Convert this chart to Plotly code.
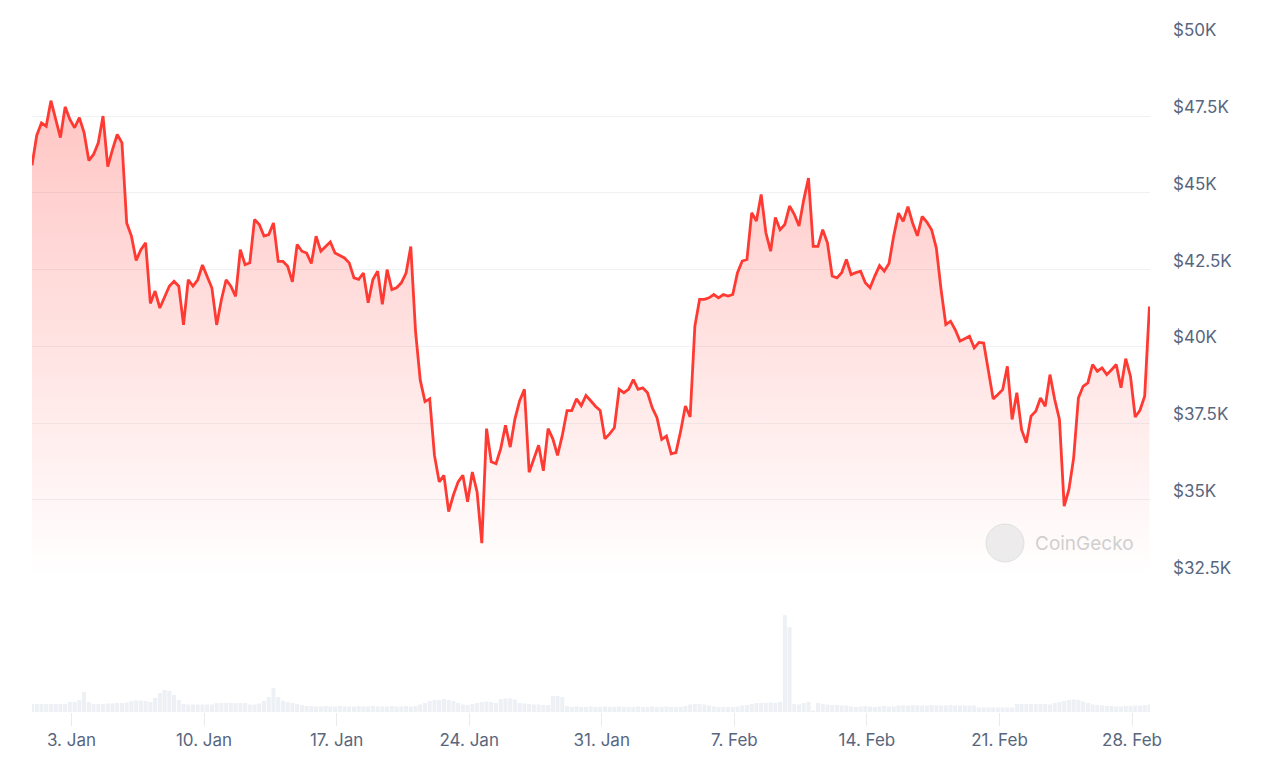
import pandas as pd
import plotly.graph_objects as go

# BTC price, 6-hourly (USD)
price = [
    45900, 46870, 47280, 47170, 48000, 47400, 46800, 47800, 47390, 47120,
    47450, 46960, 46050, 46250, 46630, 47500, 45850, 46410, 46900, 46630,
    44020, 43590, 42800, 43150, 43370, 41400, 41800, 41250, 41630, 41960,
    42120, 41960, 40700, 42170, 41960, 42170, 42650, 42280, 41900, 40700,
    41520, 42170, 41960, 41630, 43150, 42660, 42720, 44130, 43970, 43590,
    43640, 44020, 42770, 42770, 42610, 42100, 43320, 43100, 43040, 42700,
    43590, 43100, 43250, 43400, 43040, 42950, 42880, 42720, 42230, 42180,
    42390, 41420, 42180, 42450, 41370, 42500, 41850, 41910, 42070, 42390,
    43250, 40500, 38900, 38200, 38290, 36450, 35590, 35800, 34620, 35160,
    35590, 35800, 34940, 35910, 35260, 33590, 37320, 36240, 36180, 36670,
    37430, 36720, 37640, 38230, 38600, 35900, 36340, 36780, 35950, 37320,
    36990, 36450, 37100, 37910, 37910, 38290, 38070, 38400, 38230, 38050,
    37910, 36990, 37150, 37350, 38600, 38490, 38600, 38920, 38600, 38650,
    38490, 38000, 37680, 36970, 37080, 36500, 36540, 37240, 38060, 37700,
    40660, 41530, 41530, 41580, 41690, 41580, 41690, 41640, 41690, 42400,
    42780, 42830, 44350, 44080, 44950, 43700, 43100, 44200, 43800, 43970,
    44570, 44300, 43920, 44780, 45480, 43260, 43260, 43800, 43370, 42290,
    42230, 42400, 42830, 42340, 42400, 42450, 42070, 41910, 42290, 42630,
    42450, 42700, 43600, 44340, 44070, 44550, 44010, 43600, 44230, 44050,
    43800, 43200, 41850, 40710, 40820, 40540, 40170, 40240, 40330, 39950,
    40130, 40110, 39140, 38290, 38430, 38590, 39350, 37620, 38490, 37290,
    36860, 37730, 37890, 38320, 38050, 39080, 38270, 37620, 34800, 35340,
    36370, 38320, 38700, 38810, 39410, 39190, 39300, 39080, 39240, 39410,
    38650, 39600, 39030, 37700, 37920, 38380, 41300,
]

# traded volume, same 6h steps (USD bn, rough)
volume = [
    32, 32, 32, 32, 32, 32, 32, 32, 40, 40,
    48, 80, 40, 32, 32, 32, 34, 34, 36, 36,
    38, 44, 46, 46, 44, 40, 56, 76, 88, 84,
    68, 48, 32, 30, 30, 30, 30, 30, 30, 36,
    36, 36, 36, 36, 36, 36, 30, 30, 34, 44,
    60, 96, 60, 46, 40, 36, 32, 28, 24, 24,
    22, 22, 24, 22, 22, 24, 22, 22, 22, 24,
    22, 22, 24, 22, 22, 22, 24, 22, 22, 24,
    22, 24, 30, 36, 44, 48, 48, 52, 48, 44,
    36, 30, 28, 32, 36, 40, 42, 40, 36, 52,
    54, 54, 50, 36, 34, 32, 30, 30, 28, 28,
    64, 64, 60, 24, 20, 22, 20, 20, 22, 20,
    20, 22, 20, 20, 22, 20, 20, 20, 22, 20,
    20, 22, 20, 20, 22, 20, 20, 20, 24, 30,
    32, 32, 30, 26, 22, 20, 20, 20, 20, 22,
    26, 28, 32, 36, 36, 36, 38, 36, 40, 388,
    340, 32, 30, 36, 40, 6, 36, 32, 30, 28,
    28, 26, 26, 22, 20, 22, 24, 22, 20, 22,
    24, 22, 22, 26, 26, 26, 28, 26, 26, 26,
    28, 26, 26, 26, 28, 26, 26, 26, 26, 26,
    18, 18, 18, 18, 18, 18, 18, 18, 32, 32,
    32, 32, 32, 32, 32, 30, 36, 40, 44, 48,
    50, 48, 42, 36, 30, 28, 26, 24, 24, 22,
    22, 24, 24, 26, 26, 28, 30,
]

dates = pd.date_range("2021-12-31 22:00", periods=len(price), freq="6h")

y_ticks = [32500, 35000, 37500, 40000, 42500, 45000, 47500, 50000]
y_labels = ["$32.5K", "$35K", "$37.5K", "$40K", "$42.5K", "$45K", "$47.5K", "$50K"]

RED = "#ff3a33"
LABEL = "#58667e"
FONT = "Inter"

fig = go.Figure()

fig.add_trace(go.Bar(
    x=dates, y=volume, yaxis="y2",
    marker=dict(color="#edf0f4", line=dict(width=0)),
    hoverinfo="skip",
))

fig.add_trace(go.Scatter(
    x=dates, y=price, mode="lines",
    line=dict(color=RED, width=2.8),
    fill="tozeroy",
    fillgradient=dict(
        type="vertical",
        start=32500, stop=48500,
        colorscale=[[0, "rgba(255,58,51,0)"], [1, "rgba(255,58,51,0.3)"]],
    ),
))

# page body keeps its 8px default margin, so the figure is 8px smaller
fig.update_layout(
    width=1255, height=763,
    margin=dict(l=24, r=113, t=31, b=59, autoexpand=False),
    paper_bgcolor="white", plot_bgcolor="white",
    showlegend=False,
    bargap=0.15,
    font=dict(family=FONT, color=LABEL),
    xaxis=dict(
        anchor="y2", automargin=False,
        range=["2021-12-31 22:00", "2022-02-28 22:45"],
        tick0="2022-01-03", dtick=7 * 86400000,
        tickformat="%-d. %b",
        ticks="outside", ticklen=13, tickcolor="#e8eaee",
        showgrid=False, showline=False, zeroline=False,
        tickfont=dict(size=17, color=LABEL),
    ),
    yaxis=dict(
        domain=[0.2006, 1], automargin=False,
        range=[32490, 50010],
        side="right",
        tickvals=y_ticks, ticktext=y_labels,
        showgrid=True, gridcolor="#eff2f5", gridwidth=1,
        zeroline=False, showline=False,
        ticklabelstandoff=22, ticklabelshift=-9,
        tickfont=dict(size=17, color=LABEL),
    ),
    yaxis2=dict(
        domain=[0, 0.2], automargin=False,
        range=[0, 540],
        showgrid=False, showticklabels=False, zeroline=False,
    ),
)

# CoinGecko watermark
fig.add_shape(
    type="circle", xref="paper", yref="paper",
    x0=(986 - 32) / 1118, x1=(1024 - 32) / 1118,
    y0=(712 - 562) / 673, y1=(712 - 524) / 673,
    fillcolor="rgba(225,225,225,0.6)", line=dict(color="rgba(215,215,215,0.7)", width=1),
    layer="above",
)
fig.add_annotation(
    text="CoinGecko", xref="paper", yref="paper",
    x=(1033 - 32) / 1118, y=(712 - 543) / 673,
    xanchor="left", yanchor="middle", showarrow=False,
    font=dict(family=FONT, size=19, color="#cfcfcf"),
)

fig.write_html("out.html")
